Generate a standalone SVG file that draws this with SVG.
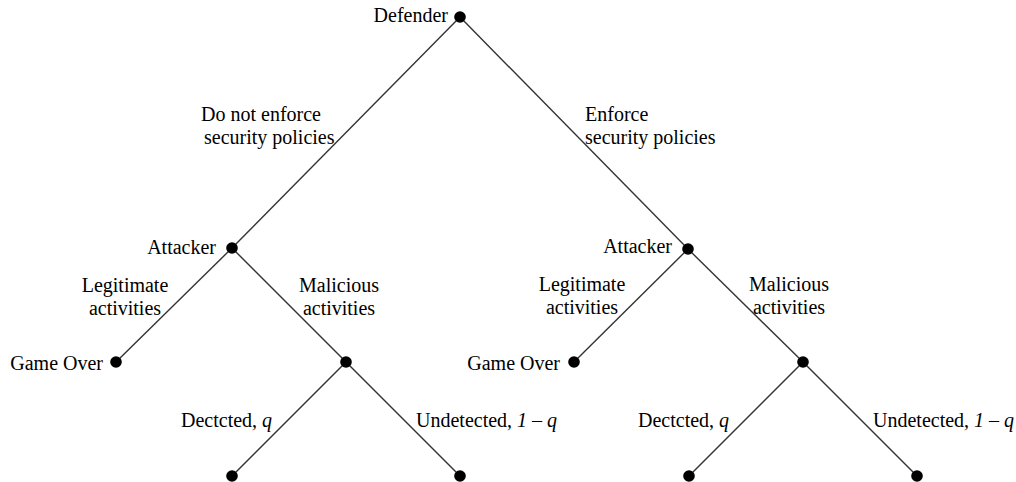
<svg xmlns="http://www.w3.org/2000/svg" width="1016" height="482" viewBox="0 0 1016 482">
<style>
text{font-family:"Liberation Serif","Times New Roman",serif;font-size:20px;fill:#000}
.e{text-anchor:end}.m{text-anchor:middle}
.edge{stroke:#333;stroke-width:1.4;fill:none}
.dot{fill:#000}
</style>
<rect width="1016" height="482" fill="#fff"/>
<g id="connectors">
<line class="edge" x1="460" y1="17" x2="232" y2="248"/>
<line class="edge" x1="460" y1="17" x2="688" y2="249"/>
<line class="edge" x1="232" y1="248" x2="116" y2="362"/>
<line class="edge" x1="232" y1="248" x2="346" y2="362"/>
<line class="edge" x1="688" y1="249" x2="574" y2="362"/>
<line class="edge" x1="688" y1="249" x2="803" y2="362"/>
<line class="edge" x1="346" y1="362" x2="232" y2="476"/>
<line class="edge" x1="346" y1="362" x2="460" y2="476"/>
<line class="edge" x1="803" y1="362" x2="689" y2="476"/>
<line class="edge" x1="803" y1="362" x2="917" y2="476"/>
</g>
<g id="defender"><circle class="dot" cx="460" cy="17" r="5.8"/><text class="e" x="448" y="22">Defender</text></g>
<g id="attacker-left"><circle class="dot" cx="232" cy="248" r="5.8"/><text class="e" x="216" y="254">Attacker</text></g>
<g id="attacker-right"><circle class="dot" cx="688" cy="249" r="5.8"/><text class="e" x="672" y="253">Attacker</text></g>
<g id="gameover-left"><circle class="dot" cx="116" cy="362" r="5.8"/><text class="e" x="103" y="370">Game Over</text></g>
<g id="gameover-right"><circle class="dot" cx="574" cy="362" r="5.8"/><text class="e" x="560" y="370">Game Over</text></g>
<g id="chance-left"><circle class="dot" cx="346" cy="362" r="5.8"/></g>
<g id="chance-right"><circle class="dot" cx="803" cy="362" r="5.8"/></g>
<g id="leaf-1"><circle class="dot" cx="232" cy="476" r="5.8"/></g>
<g id="leaf-2"><circle class="dot" cx="460" cy="476" r="5.8"/></g>
<g id="leaf-3"><circle class="dot" cx="689" cy="476" r="5.8"/></g>
<g id="leaf-4"><circle class="dot" cx="917" cy="476" r="5.8"/></g>
<g id="labels">
<text x="201" y="121">Do not enforce</text>
<text x="204" y="144">security policies</text>
<text x="585" y="121">Enforce</text>
<text x="585" y="144">security policies</text>
<text class="m" x="125" y="292">Legitimate</text>
<text class="m" x="125" y="315">activities</text>
<text class="m" x="339" y="292">Malicious</text>
<text class="m" x="339" y="315">activities</text>
<text class="m" x="582" y="291">Legitimate</text>
<text class="m" x="582" y="314">activities</text>
<text class="m" x="789" y="291">Malicious</text>
<text class="m" x="789" y="314">activities</text>
<text x="181" y="427">Dectcted, <tspan font-style="italic">q</tspan></text>
<text x="416" y="427">Undetected, <tspan font-style="italic">1</tspan> – <tspan font-style="italic">q</tspan></text>
<text x="638" y="427">Dectcted, <tspan font-style="italic">q</tspan></text>
<text x="873" y="427">Undetected, <tspan font-style="italic">1</tspan> – <tspan font-style="italic">q</tspan></text>
</g>
</svg>
